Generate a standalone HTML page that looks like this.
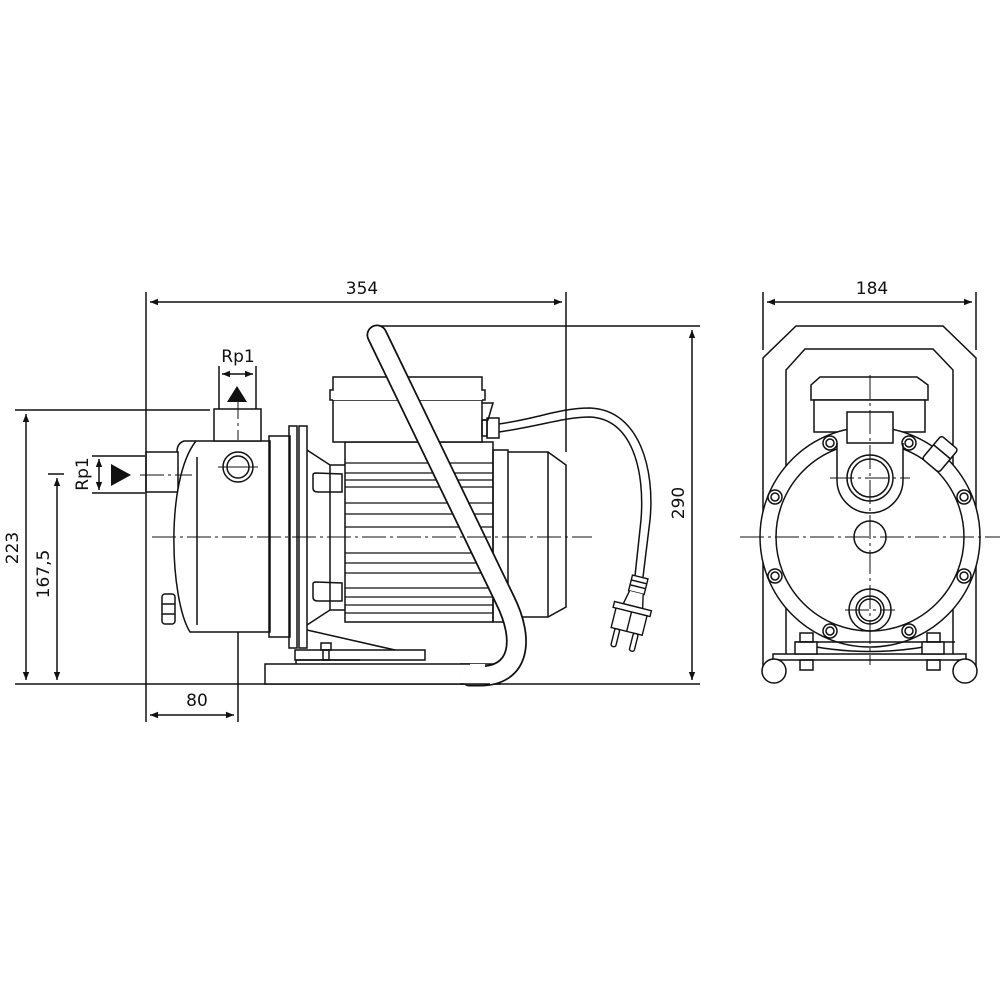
<!DOCTYPE html>
<html><head><meta charset="utf-8"><style>
html,body{margin:0;padding:0;background:#fff;}
svg{display:block;}
text{font-family:"DejaVu Sans","Liberation Sans",sans-serif;fill:#111;}
</style></head><body>
<svg width="1000" height="1000" viewBox="0 0 1000 1000" xmlns="http://www.w3.org/2000/svg">
<defs>
<marker id="a" viewBox="0 0 10 10" refX="10" refY="5" markerWidth="12" markerHeight="8" markerUnits="userSpaceOnUse" orient="auto-start-reverse"><path d="M0,1 L10,5 L0,9 z" fill="#111"/></marker>
</defs>
<g fill="none" stroke="#111" stroke-width="1.5">
<!-- ===== dimensions left view ===== -->
<line x1="146" y1="292" x2="146" y2="722"/>
<line x1="566" y1="292" x2="566" y2="452"/>
<line x1="150" y1="302" x2="562" y2="302" marker-start="url(#a)" marker-end="url(#a)"/>
<line x1="15" y1="410" x2="210" y2="410"/>
<line x1="15" y1="684" x2="700" y2="684"/>
<line x1="48" y1="474" x2="64" y2="474"/>
<line x1="26" y1="414" x2="26" y2="680" marker-start="url(#a)" marker-end="url(#a)"/>
<line x1="57" y1="478" x2="57" y2="680" marker-start="url(#a)" marker-end="url(#a)"/>
<line x1="238" y1="440" x2="238" y2="722"/>
<line x1="150" y1="715" x2="234" y2="715" marker-start="url(#a)" marker-end="url(#a)"/>
<line x1="380" y1="326" x2="700" y2="326"/>
<line x1="692" y1="330" x2="692" y2="680" marker-start="url(#a)" marker-end="url(#a)"/>
<!-- Rp1 top -->
<line x1="219" y1="366" x2="219" y2="409"/>
<line x1="256" y1="366" x2="256" y2="409"/>
<line x1="222" y1="374" x2="253" y2="374" marker-start="url(#a)" marker-end="url(#a)"/>
<!-- Rp1 left -->
<line x1="92" y1="456" x2="145" y2="456"/>
<line x1="92" y1="493" x2="145" y2="493"/>
<line x1="99" y1="459" x2="99" y2="490" marker-start="url(#a)" marker-end="url(#a)"/>
</g>
<path d="M237,386 L227,402 L247,402 z" fill="#111"/>
<path d="M111,464 L111,486 L131,475 z" fill="#111"/>
<text x="362" y="294" font-size="17" text-anchor="middle">354</text>
<text x="238" y="362" font-size="17" text-anchor="middle">Rp1</text>
<text x="197" y="706" font-size="17" text-anchor="middle">80</text>
<text transform="translate(18,548) rotate(-90)" font-size="17" text-anchor="middle">223</text>
<text transform="translate(49,574) rotate(-90)" font-size="17" text-anchor="middle">167,5</text>
<text transform="translate(88,474) rotate(-90)" font-size="17" text-anchor="middle">Rp1</text>
<text transform="translate(684,503) rotate(-90)" font-size="17" text-anchor="middle">290</text>

<!-- ===== left view pump ===== -->
<g fill="none" stroke="#111" stroke-width="1.5">
<!-- inlet stub -->
<rect x="146" y="452" width="32" height="40"/>
<!-- housing -->
<path d="M196,441 L270,441 L270,632 L190,632 C170,600 165,480 196,441 z" fill="#fff"/>
<path d="M196,441 L184,441 C178,443 177,448 177,452"/>
<line x1="197" y1="457" x2="197" y2="625"/>
<rect x="162" y="594" width="13" height="30" rx="3"/>
<line x1="162" y1="604" x2="175" y2="604"/>
<line x1="162" y1="614" x2="175" y2="614"/>
<!-- outlet -->
<rect x="214" y="409" width="47" height="32" fill="#fff"/>
<circle cx="238" cy="467" r="15"/>
<circle cx="238" cy="467" r="11"/>
<line x1="218" y1="467" x2="258" y2="467" stroke-width="1"/>
<!-- flange -->
<rect x="269" y="436" width="21" height="201"/>
<rect x="289" y="426" width="8" height="222"/>
<rect x="299" y="426" width="8" height="222"/>
<path d="M307,450 L330,465 L330,610 L307,625"/>
<path d="M313,475 L313,488 Q313,492 318,492 L342,492 L342,474 L316,473 Q313,473 313,475 z"/>
<path d="M313,584 L313,597 Q313,601 318,601 L342,601 L342,583 L316,582 Q313,582 313,584 z"/>
<line x1="330" y1="465" x2="345" y2="465"/>
<line x1="330" y1="610" x2="345" y2="610"/>
<!-- motor -->
<rect x="345" y="442" width="148" height="180"/>
<rect x="493" y="450" width="15" height="172"/>
<path d="M508,452 L548,452 L566,465 L566,607 L548,617 L508,617"/>
<line x1="548" y1="452" x2="548" y2="617"/>
<g stroke-width="1.3">
<line x1="345" y1="463" x2="493" y2="463"/>
<line x1="345" y1="473" x2="493" y2="473"/>
<line x1="345" y1="480" x2="493" y2="480"/>
<line x1="345" y1="487" x2="493" y2="487"/>
<line x1="345" y1="503" x2="493" y2="503"/>
<line x1="345" y1="514" x2="493" y2="514"/>
<line x1="345" y1="527" x2="493" y2="527"/>
<line x1="345" y1="553" x2="493" y2="553"/>
<line x1="345" y1="563" x2="493" y2="563"/>
<line x1="345" y1="573" x2="493" y2="573"/>
<line x1="345" y1="588" x2="493" y2="588"/>
<line x1="345" y1="597" x2="493" y2="597"/>
<line x1="345" y1="605" x2="493" y2="605"/>
<line x1="345" y1="613" x2="493" y2="613"/>
</g>
<!-- terminal box -->
<rect x="333" y="400" width="149" height="42" fill="#fff"/>
<path d="M333,400 L330,400 L330,390 L333,390 L333,377 L482,377 L482,390 L485,390 L485,400 L482,400" fill="#fff"/>
<path d="M482,403 L493,403 L488,420 L482,420"/>
<rect x="482" y="420" width="5" height="16"/>
<rect x="487" y="418" width="12" height="20"/>
<!-- cable -->
<path d="M499,424 C540,418 560,408 590,408 C640,410 655,470 650,520 L643,577"/>
<path d="M499,432 C540,426 565,417 590,417 C632,419 645,470 641,520 L635,576"/>
<!-- base -->
<rect x="265" y="664" width="235" height="20" fill="#fff"/>
<rect x="295" y="650" width="130" height="10"/>
<line x1="296" y1="660" x2="296" y2="664"/>
<line x1="296" y1="660" x2="360" y2="660"/>
<path d="M307,630 L395,650"/>
<rect x="321" y="643" width="10" height="7"/>
<rect x="323" y="650" width="6" height="10"/>
</g>
<!-- handle -->
<path d="M377,335 L505,600 C525,640 520,676 480,676 L470,676" fill="none" stroke="#111" stroke-width="21" stroke-linecap="round"/>
<path d="M377,335 L505,600 C525,640 520,676 480,676 L468,676" fill="none" stroke="#fff" stroke-width="17.5" stroke-linecap="round"/>
<rect x="460" y="664" width="25" height="19" fill="#fff"/>
<line x1="460" y1="684" x2="490" y2="684" stroke="#111" stroke-width="1.5"/>
<line x1="460" y1="664" x2="470" y2="664" stroke="#111" stroke-width="1.5"/>
<!-- plug -->
<g transform="rotate(14,632,610)" fill="#fff" stroke="#111" stroke-width="1.4">
<rect x="624" y="576" width="16" height="16"/>
<line x1="624" y1="581" x2="640" y2="581"/>
<line x1="624" y1="586" x2="640" y2="586"/>
<path d="M625,592 L622,606 L642,606 L639,592"/>
<rect x="613" y="606" width="38" height="6"/>
<rect x="616" y="612" width="32" height="20"/>
<line x1="632" y1="612" x2="632" y2="632"/>
<rect x="620" y="632" width="5" height="18" rx="2"/>
<rect x="639" y="632" width="5" height="18" rx="2"/>
</g>
<!-- centre lines left -->
<g stroke="#111" stroke-width="1" fill="none" stroke-dasharray="24,4,3,4">
<line x1="152" y1="537" x2="592" y2="537"/>
<line x1="140" y1="475" x2="192" y2="475"/>
<line x1="238" y1="395" x2="238" y2="440"/>
</g>

<!-- ===== right view ===== -->
<g fill="none" stroke="#111" stroke-width="1.5">
<line x1="763" y1="292" x2="763" y2="350"/>
<line x1="976" y1="292" x2="976" y2="350"/>
<line x1="767" y1="302" x2="972" y2="302" marker-start="url(#a)" marker-end="url(#a)"/>
<path d="M763,670 L763,358 L796,326 L943,326 L976,358 L976,670"/>
<path d="M786,660 L786,370 L805,349 L933,349 L953,370 L953,660"/>
<!-- terminal box -->
<path d="M811,400 L811,385 L820,377 L917,377 L928,385 L928,400 z" fill="#fff"/>
<rect x="814" y="400" width="111" height="32" fill="#fff"/>
<!-- flange circle -->
<circle cx="870" cy="537" r="110" fill="#fff"/>
<circle cx="870" cy="537" r="94"/>
<!-- cable gland -->
<g transform="rotate(40,938,455)"><rect x="928" y="438" width="22" height="30" rx="3" fill="#fff"/><line x1="928" y1="450" x2="950" y2="450"/></g>
<!-- outlet lobe -->
<path d="M837,443 L837,480 A33,33 0 0 0 903,480 L903,443" fill="#fff"/>
<rect x="847" y="412" width="46" height="31" fill="#fff"/>
<circle cx="870" cy="478" r="23"/>
<circle cx="870" cy="478" r="19"/>
<circle cx="870" cy="537" r="16"/>
<circle cx="870" cy="610" r="21"/>
<circle cx="870" cy="610" r="14"/>
<circle cx="870" cy="610" r="11"/>
<!-- bolts -->
<g>
<circle cx="830" cy="443" r="7"/><circle cx="830" cy="443" r="4"/>
<circle cx="909" cy="443" r="7"/><circle cx="909" cy="443" r="4"/>
<circle cx="775" cy="497" r="7"/><circle cx="775" cy="497" r="4"/>
<circle cx="964" cy="497" r="7"/><circle cx="964" cy="497" r="4"/>
<circle cx="775" cy="576" r="7"/><circle cx="775" cy="576" r="4"/>
<circle cx="964" cy="576" r="7"/><circle cx="964" cy="576" r="4"/>
<circle cx="830" cy="631" r="7"/><circle cx="830" cy="631" r="4"/>
<circle cx="909" cy="631" r="7"/><circle cx="909" cy="631" r="4"/>
</g>
<!-- base -->
<path d="M796,643 Q870,660 944,643"/>
<rect x="773" y="654" width="193" height="6" fill="#fff"/>
<line x1="795" y1="642" x2="955" y2="642"/>
<rect x="795" y="642" width="22" height="12" fill="#fff"/>
<rect x="922" y="642" width="22" height="12" fill="#fff"/>
<rect x="800" y="633" width="13" height="9"/>
<rect x="927" y="633" width="13" height="9"/>
<rect x="800" y="660" width="13" height="10"/>
<rect x="927" y="660" width="13" height="10"/>
<circle cx="774" cy="671" r="12" fill="#fff"/>
<circle cx="965" cy="671" r="12" fill="#fff"/>
</g>
<text x="872" y="294" font-size="17" text-anchor="middle">184</text>
<g stroke="#111" stroke-width="1" fill="none" stroke-dasharray="24,4,3,4">
<line x1="740" y1="537" x2="1000" y2="537"/>
<line x1="870" y1="375" x2="870" y2="665"/>
<line x1="830" y1="478" x2="910" y2="478"/>
<line x1="845" y1="610" x2="895" y2="610"/>
</g>
</svg>
</body></html>
